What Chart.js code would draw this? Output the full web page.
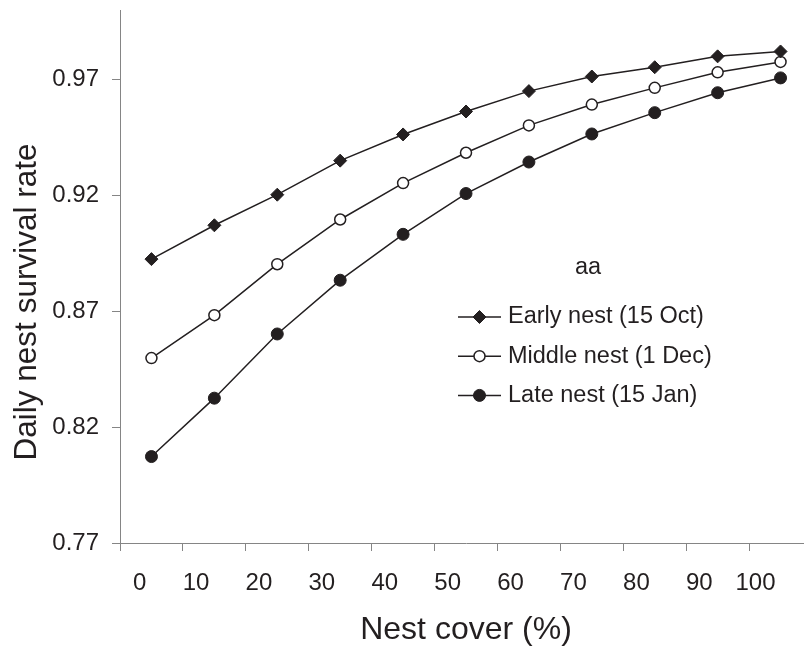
<!DOCTYPE html>
<html>
<head>
<meta charset="utf-8">
<script src="https://cdn.jsdelivr.net/npm/chart.js@4.4.1/dist/chart.umd.min.js"></script>
<style>
html, body { margin:0; padding:0; overflow:hidden; background:#fff; }
#wrap { position:relative; width:832px; height:647px; }
</style>
</head>
<body>
<div id="wrap"><canvas id="chart"></canvas></div>
<script>
// values
var cover = ['0','10','20','30','40','50','60','70','80','90','100'];
var early = [0.8925, 0.9071, 0.9203, 0.9350, 0.9463, 0.9562, 0.9650, 0.9713, 0.9753, 0.9800, 0.9821];
var middle = [0.8498, 0.8683, 0.8903, 0.9096, 0.9253, 0.9384, 0.9502, 0.9592, 0.9664, 0.9731, 0.9776];
var late = [0.8073, 0.8325, 0.8602, 0.8834, 0.9032, 0.9208, 0.9344, 0.9465, 0.9557, 0.9643, 0.9707];
var yTicks = [0.77, 0.82, 0.87, 0.92, 0.97];
var seriesNames = ['Early nest (15 Oct)', 'Middle nest (1 Dec)', 'Late nest (15 Jan)'];
var legendTitle = 'aa';
var xTitle = 'Nest cover (%)';
var yTitle = 'Daily nest survival rate';

var ink = '#231f20';
var axisGray = '#858585';
var fam = '"Liberation Sans", Arial, Helvetica, sans-serif';

function marker(ctx, style, r, x, y, fill, stroke, w) {
  ctx.save();
  ctx.fillStyle = fill;
  ctx.strokeStyle = stroke;
  ctx.lineWidth = w;
  ctx.beginPath();
  if (style == 'rectRot') {
    ctx.moveTo(x - r, y);
    ctx.lineTo(x, y - r);
    ctx.lineTo(x + r, y);
    ctx.lineTo(x, y + r);
    ctx.closePath();
  } else {
    ctx.arc(x, y, r, 0, Math.PI * 2);
  }
  ctx.fill();
  if (w > 0) ctx.stroke();
  ctx.restore();
}

// legend sits inside the plot, plus the rotated y title
var extras = {
  id: 'extras',
  afterDraw: function(chart) {
    var ctx = chart.ctx;
    ctx.save();
    ctx.font = '23.5px ' + fam;
    ctx.fillStyle = ink;
    ctx.textAlign = 'center';
    ctx.textBaseline = 'middle';
    ctx.fillText(legendTitle, 588, 268);

    chart.data.datasets.forEach(function(ds, i) {
      var y = 317 + i * 39.2;
      ctx.strokeStyle = ds.borderColor;
      ctx.lineWidth = ds.borderWidth;
      ctx.beginPath();
      ctx.moveTo(458, y);
      ctx.lineTo(501, y);
      ctx.stroke();
      marker(ctx, ds.pointStyle, ds.pointRadius, 479.5, y, ds.pointBackgroundColor, ds.pointBorderColor, ds.pointBorderWidth);
      ctx.fillStyle = ink;
      ctx.textAlign = 'left';
      ctx.fillText(ds.label, 508, y);
    });

    ctx.translate(35.5, 302);
    ctx.rotate(-Math.PI / 2);
    ctx.font = '31.5px ' + fam;
    ctx.textAlign = 'center';
    ctx.textBaseline = 'alphabetic';
    ctx.fillText(yTitle, 0, 0);
    ctx.restore();
  }
};

var ctx = document.getElementById('chart').getContext('2d');
var chart = new Chart(ctx, {
  type: 'line',
  data: {
    labels: cover,
    datasets: [{
      label: seriesNames[0],
      data: early,
      borderColor: ink,
      borderWidth: 1.5,
      pointStyle: 'rectRot',
      pointRadius: 6.5,
      pointBackgroundColor: ink,
      pointBorderColor: ink,
      pointBorderWidth: 1,
      tension: 0
    }, {
      label: seriesNames[1],
      data: middle,
      borderColor: ink,
      borderWidth: 1.5,
      pointStyle: 'circle',
      pointRadius: 5.5,
      pointBackgroundColor: '#ffffff',
      pointBorderColor: ink,
      pointBorderWidth: 1.5,
      tension: 0
    }, {
      label: seriesNames[2],
      data: late,
      borderColor: ink,
      borderWidth: 1.5,
      pointStyle: 'circle',
      pointRadius: 6,
      pointBackgroundColor: ink,
      pointBorderColor: ink,
      pointBorderWidth: 1,
      tension: 0
    }]
  },
  options: {
    responsive: true,
    maintainAspectRatio: false,
    animation: false,
    layout: { padding: { top: 10, right: 20, left: 0, bottom: 0 } },
    plugins: {
      legend: { display: false },
      tooltip: { enabled: false }
    },
    scales: {
      x: {
        type: 'category',
        offset: true,
        grid: { offset: true, drawOnChartArea: false, drawTicks: true, tickLength: 8, color: axisGray, lineWidth: 1 },
        border: { color: axisGray, width: 1 },
        ticks: {
          align: 'end',
          labelOffset: -5,
          padding: 18,
          autoSkip: false,
          maxRotation: 0,
          color: ink,
          font: { size: 24, family: fam }
        },
        title: {
          display: true,
          text: xTitle,
          color: ink,
          font: { size: 32, family: fam, lineHeight: 1 },
          padding: { top: 0, bottom: 1 }
        },
        afterFit: function(s) {
          s.height = 104;
          s.paddingLeft = 0;
          s.paddingRight = 0;
        }
      },
      y: {
        min: 0.77,
        max: 1.0,
        grid: { drawOnChartArea: false, drawTicks: true, tickLength: 8, color: axisGray, lineWidth: 1 },
        border: { color: axisGray, width: 1 },
        ticks: {
          padding: 13,
          color: ink,
          font: { size: 24, family: fam },
          callback: function(v) { return Number(v).toFixed(2); }
        },
        afterBuildTicks: function(s) {
          s.ticks = yTicks.map(function(v) { return { value: v }; });
        },
        afterFit: function(s) {
          s.width = 120;
          s.paddingTop = 0;
          s.paddingBottom = 0;
        }
      }
    }
  },
  plugins: [extras]
});
</script>
</body>
</html>
